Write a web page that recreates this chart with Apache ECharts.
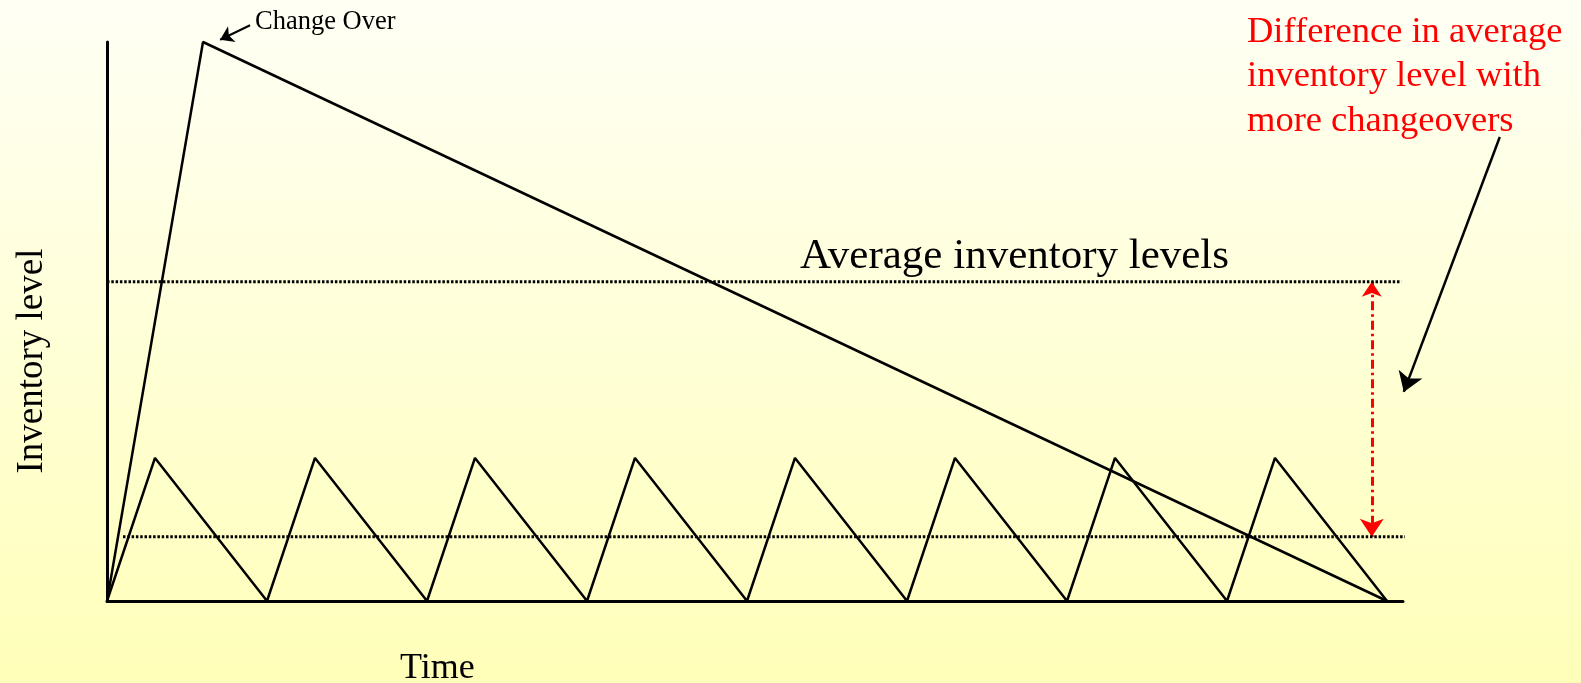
<!DOCTYPE html>
<html>
<head>
<meta charset="utf-8">
<script src="https://cdn.jsdelivr.net/npm/echarts@6/dist/echarts.min.js"></script>
<style>
html,body{margin:0;padding:0;width:1581px;height:683px;overflow:hidden;
background:linear-gradient(to bottom,#FFFFF5 0%,#FFFFB9 100%);}
#c{width:1581px;height:683px;}
</style>
</head>
<body>
<div id="c"></div>
<script>
// ---- data (time in cycles, level in % of max) ----
const bigTime  = [0, 0.6, 8];
const bigLevel = [0, 100, 0];
const sawTime  = [0, 0.3, 1, 1.3, 2, 2.3, 3, 3.3, 4, 4.3, 5, 5.3, 6, 6.3, 7, 7.3, 8];
const sawLevel = [0, 25.6, 0, 25.6, 0, 25.6, 0, 25.6, 0, 25.6, 0, 25.6, 0, 25.6, 0, 25.6, 0];
const avgHighTime = [0, 8.09];
const avgHighLevel = [57.1, 57.1];
const avgLowTime = [0.1, 8.19];
const avgLowLevel = [11.5, 11.5];
const diffArrow = [[7.905, 57.1], [7.905, 11.5]];
const noteArrow = [[8.705, 83.0], [8.105, 37.4]];
const changeArrow = [[0.894, 103.0], [0.707, 100.4]];

const zip = (a, b) => a.map((v, i) => [v, b[i]]);
const FONT = "'Liberation Serif','Times New Roman',serif";

const chart = echarts.init(document.getElementById('c'), null, {renderer: 'canvas'});
const axisCommon = {
  type: 'value',
  axisLine: {show: true, onZero: false, lineStyle: {color: '#000', width: 3}},
  axisTick: {show: false}, axisLabel: {show: false}, splitLine: {show: false}
};
chart.setOption({
  backgroundColor: 'transparent',
  animation: false,
  grid: {left: 107, right: 178, top: 42, bottom: 82},
  xAxis: Object.assign({}, axisCommon, {min: 0, max: 8.1}),
  yAxis: Object.assign({}, axisCommon, {min: 0, max: 100}),
  series: [
    {type: 'line', data: zip(bigTime, bigLevel), symbol: 'none', clip: false,
     lineStyle: {color: '#000', width: 2.5}},
    {type: 'line', data: zip(sawTime, sawLevel), symbol: 'none', clip: false,
     lineStyle: {color: '#000', width: 2.5}},
    {type: 'line', data: zip(avgHighTime, avgHighLevel), symbol: 'none', clip: false,
     lineStyle: {color: '#000', width: 3, type: [2.5, 1.8]}},
    {type: 'line', data: zip(avgLowTime, avgLowLevel), symbol: 'none', clip: false,
     lineStyle: {color: '#000', width: 3, type: [2.5, 1.8]}},
    {type: 'lines', coordinateSystem: 'cartesian2d', clip: false,
     symbol: ['arrow', 'arrow'], symbolSize: [15, 18],
     lineStyle: {color: '#FF0000', width: 3, type: [9, 4, 2.5, 4], opacity: 1},
     data: [{coords: diffArrow}]},
    {type: 'lines', coordinateSystem: 'cartesian2d', clip: false,
     symbol: ['none', 'arrow'], symbolSize: [15, 19],
     lineStyle: {color: '#000', width: 2.5, opacity: 1},
     data: [{coords: noteArrow}]},
    {type: 'lines', coordinateSystem: 'cartesian2d', clip: false,
     symbol: ['none', 'arrow'], symbolSize: [11, 13],
     lineStyle: {color: '#000', width: 2, opacity: 1},
     data: [{coords: changeArrow}]}
  ],
  graphic: [
    {type: 'text', x: 255, y: 22, style: {text: 'Change Over', font: '26.5px ' + FONT, fill: '#000', verticalAlign: 'middle'}},
    {type: 'text', x: 800, y: 257, style: {text: 'Average inventory levels', font: '43px ' + FONT, fill: '#000', verticalAlign: 'middle'}},
    {type: 'text', x: 1247, y: 32, style: {text: 'Difference in average', font: '36.5px ' + FONT, fill: '#FF0000', verticalAlign: 'middle'}},
    {type: 'text', x: 1247, y: 76.5, style: {text: 'inventory level with', font: '36.5px ' + FONT, fill: '#FF0000', verticalAlign: 'middle'}},
    {type: 'text', x: 1247, y: 121, style: {text: 'more changeovers', font: '36.5px ' + FONT, fill: '#FF0000', verticalAlign: 'middle'}},
    {type: 'text', x: 400, y: 669, style: {text: 'Time', font: '36px ' + FONT, fill: '#000', verticalAlign: 'middle'}},
    {type: 'text', x: 32, y: 361, rotation: Math.PI / 2,
     style: {text: 'Inventory level', font: '37px ' + FONT, fill: '#000', align: 'center', verticalAlign: 'middle'}}
  ]
});
</script>
</body>
</html>
